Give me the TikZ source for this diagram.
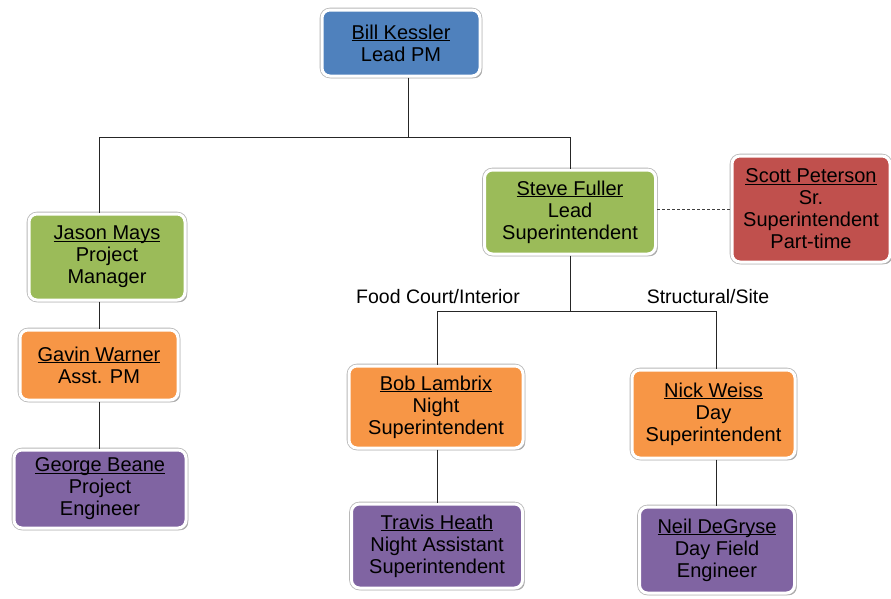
\documentclass[tikz,border=0pt]{standalone}
\usepackage{fontspec}
\setmainfont{Liberation Sans}
\usetikzlibrary{shadows}
\definecolor{cblue}{HTML}{4F81BD}
\definecolor{cgreen}{HTML}{9BBB59}
\definecolor{corange}{HTML}{F79646}
\definecolor{cpurple}{HTML}{8064A2}
\definecolor{cred}{HTML}{C0504D}
\newcommand\nameul[1]{\underline{\raisebox{0pt}[\height][0pt]{#1}}}
\tikzset{
  orgbox/.style={rounded corners=8pt, inner sep=0pt, align=center,
    font=\fontsize{20}{22}\selectfont,
    drop shadow={shadow xshift=2.2pt, shadow yshift=-2.2pt, fill=black!55, opacity=0.65},
    preaction={draw=black!28, line width=4.6pt},
    draw=white, line width=3pt},
  link/.style={draw=black!85, line width=0.8pt},
  dlink/.style={draw=black!75, line width=0.8pt, dashed, dash pattern=on 3pt off 2pt},
  lbl/.style={font=\fontsize{19.5}{22}\selectfont, inner sep=0pt}
}
\begin{document}
\begin{tikzpicture}[x=1pt,y=-1pt]
\useasboundingbox[fill=white] (0,0) rectangle (891,598);
\coordinate (jt) at (408,137);
\coordinate (jl) at (99,137);
\coordinate (jr) at (570,137);
\coordinate (ss) at (570,311);
\coordinate (sl) at (437,311);
\coordinate (sr) at (716,311);

\node[orgbox, fill=cblue, minimum width=158pt, minimum height=66pt] (bill) at (401,43) {\nameul{Bill Kessler}\\Lead PM};
\node[orgbox, fill=cgreen, minimum width=156pt, minimum height=86pt] (jason) at (107,257) {\nameul{Jason Mays}\\Project\\Manager};
\node[orgbox, fill=corange, minimum width=158pt, minimum height=70pt] (gavin) at (99,365) {\nameul{Gavin Warner}\\Asst. PM};
\node[orgbox, fill=cpurple, minimum width=172pt, minimum height=78pt] (george) at (100,489) {\nameul{George Beane}\\Project\\Engineer};
\node[orgbox, fill=cgreen, minimum width=171pt, minimum height=84pt] (steve) at (570,212) {\nameul{Steve Fuller}\\Lead\\Superintendent};
\node[orgbox, fill=cred, minimum width=158pt, minimum height=106pt] (scott) at (811,209) {\nameul{Scott Peterson}\\Sr.\\Superintendent\\Part-time};
\node[orgbox, fill=corange, minimum width=174pt, minimum height=82pt] (bob) at (436,407) {\nameul{Bob Lambrix}\\Night\\Superintendent};
\node[orgbox, fill=corange, minimum width=163pt, minimum height=88pt] (nick) at (713.5,414) {\nameul{Nick Weiss}\\Day\\Superintendent};
\node[orgbox, fill=cpurple, minimum width=171pt, minimum height=84pt] (travis) at (437,546) {\nameul{Travis Heath}\\Night Assistant\\Superintendent};
\node[orgbox, fill=cpurple, minimum width=155pt, minimum height=86pt] (neil) at (717,550) {\nameul{Neil DeGryse}\\Day Field\\Engineer};

\draw[link] (bill.south -| jt) -- (jt);
\draw[link] (jason.north -| jl) -- (jl) -- (jr) -- (steve.north -| jr);
\draw[link] (jason.south -| jl) -- (gavin.north -| jl);
\draw[link] (gavin.south -| jl) -- (george.north -| jl);
\draw[dlink] (steve.east |- scott.west) -- (scott.west);
\draw[link] (steve.south -| ss) -- (ss);
\draw[link] (bob.north -| sl) -- (sl) -- (sr) -- (nick.north -| sr);
\draw[link] (bob.south -| sl) -- (travis.north -| sl);
\draw[link] (nick.south -| sr) -- (neil.north -| sr);

\node[lbl] (fc) at (438,297) {Food Court/Interior};
\node[lbl] (st) at (708,297) {Structural/Site};
\end{tikzpicture}
\end{document}
